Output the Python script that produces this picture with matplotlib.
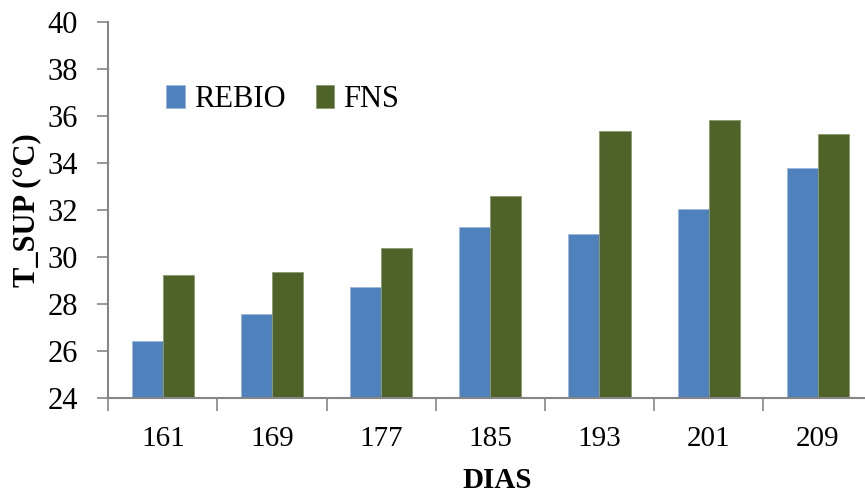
import matplotlib.pyplot as plt
import numpy as np

dias = ['161', '169', '177', '185', '193', '201', '209']
rebio = [26.42, 27.58, 28.73, 31.27, 30.97, 32.04, 33.78]
fns = [29.23, 29.38, 30.38, 32.59, 35.35, 35.82, 35.22]

plt.rcParams['font.family'] = ['Liberation Serif', 'DejaVu Serif']

fig = plt.figure(figsize=(8.65, 4.95), dpi=100)
ax = fig.add_axes([0.1252, 0.1954, 0.8833, 0.760])

x = np.arange(len(dias))
w = 0.285
ax.bar(x - w / 2, rebio, w, color='#4F81BD', edgecolor='#9DB9DD', linewidth=0.6, label='REBIO')
ax.bar(x + w / 2, fns, w, color='#4F6228', edgecolor='#8A9A6E', linewidth=0.6, label='FNS')

ax.set_ylim(24, 40)
ax.set_xlim(-0.5, len(dias) - 0.5)
ax.set_yticks(np.arange(24, 41, 2))
ax.tick_params(axis='y', labelsize=22, length=8, width=1.2, color='#868686', direction='out', pad=14)

# category labels in the middle, tick marks on the boundaries
ax.set_xticks(x)
ax.set_xticklabels(dias)
ax.set_xticks(np.arange(-0.5, len(dias), 1), minor=True)
ax.tick_params(axis='x', which='major', length=0, labelsize=21, pad=20)
ax.tick_params(axis='x', which='minor', length=9, width=1.2, color='#868686', direction='out')

for s in ['top', 'right']:
    ax.spines[s].set_visible(False)
for s in ['left', 'bottom']:
    ax.spines[s].set_color('#868686')
    ax.spines[s].set_linewidth(1.5)

fig.text(497 / 865, 1 - 480 / 495, 'DIAS', fontsize=21, fontweight='bold', ha='center', va='center')
fig.text(27 / 865, 1 - 210 / 495, 'T_SUP (°C)', fontsize=22, fontweight='bold', rotation=90,
         ha='center', va='center')

ax.legend(loc='upper left', bbox_to_anchor=(0.06, 0.865), ncol=2, frameon=False, fontsize=22,
          handlelength=0.6, handleheight=0.75, handletextpad=0.3, columnspacing=1.0, borderaxespad=0)

plt.savefig('out.png', dpi=100)
